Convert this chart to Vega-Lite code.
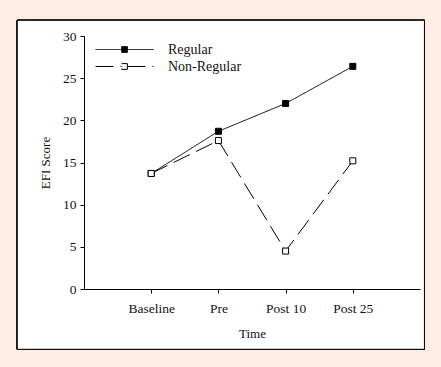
{
  "$schema": "https://vega.github.io/schema/vega-lite/v6.json",
  "width": 336,
  "height": 253,
  "autosize": {"type": "none"},
  "padding": {"left": 84, "top": 36, "right": 21, "bottom": 78},
  "background": "#fcece2",
  "config": {
    "view": {"stroke": null},
    "font": "Liberation Serif",
    "axis": {
      "labelFont": "Liberation Serif",
      "titleFont": "Liberation Serif",
      "labelFontSize": 13.5,
      "titleFontSize": 13,
      "titleFontWeight": "normal",
      "labelColor": "#111",
      "titleColor": "#111",
      "domainColor": "#000",
      "tickColor": "#000",
      "tickSize": 4,
      "grid": false
    },
    "legend": {
      "labelFont": "Liberation Serif",
      "labelFontSize": 14,
      "labelColor": "#111"
    }
  },
  "data": {
    "values": [
      {"time": "Baseline", "group": "Regular", "score": 13.7},
      {"time": "Pre", "group": "Regular", "score": 18.7},
      {"time": "Post 10", "group": "Regular", "score": 22.0},
      {"time": "Post 25", "group": "Regular", "score": 26.4},
      {"time": "Baseline", "group": "Non-Regular", "score": 13.7},
      {"time": "Pre", "group": "Non-Regular", "score": 17.6},
      {"time": "Post 10", "group": "Non-Regular", "score": 4.5},
      {"time": "Post 25", "group": "Non-Regular", "score": 15.2}
    ]
  },
  "layer": [
    {
      "mark": {"type": "rect", "fill": "white", "stroke": "black", "strokeWidth": 1, "clip": false},
      "encoding": {
        "x": {"datum": -0.993, "type": "quantitative", "scale": {"domain": [0, 5], "nice": false, "zero": false}, "axis": {"orient": "top", "domain": false, "ticks": false, "labels": false, "title": null}},
        "x2": {"datum": 5.066},
        "y": {"datum": 31.86, "type": "quantitative", "scale": {"domain": [0, 30], "nice": false}, "axis": {"orient": "right", "domain": false, "ticks": false, "labels": false, "title": null}},
        "y2": {"datum": -7.15}
      }
    },
    {
      "encoding": {
        "x": {"field": "time", "type": "ordinal", "sort": ["Baseline", "Pre", "Post 10", "Post 25"], "scale": {"type": "point", "padding": 1}, "axis": {"title": "Time", "orient": "bottom", "zindex": 2, "labelAngle": 0, "labelPadding": 8, "titlePadding": 13}},
        "y": {"field": "score", "type": "quantitative", "scale": {"domain": [0, 30], "nice": false}, "axis": {"title": "EFI Score", "orient": "left", "zindex": 2, "values": [0, 5, 10, 15, 20, 25, 30], "labelPadding": 4, "titlePadding": 10}}
      },
      "layer": [
        {
          "mark": {"type": "line", "color": "#000", "strokeWidth": 1},
          "encoding": {
            "strokeDash": {
              "field": "group", "type": "nominal",
              "scale": {"domain": ["Regular", "Non-Regular"], "range": [[1, 0], [18, 7]]},
              "legend": {
                "title": null,
                "orient": "none",
                "legendX": 31,
                "legendY": 4,
                "padding": 0,
                "symbolType": "M-3.22,0H-0.32M0.32,0H3.22M-0.32,-0.32H0.32V0.32H-0.32Z",
                "symbolSize": 324,
                "symbolStrokeColor": "black",
                "symbolStrokeWidth": 1,
                "labelOffset": 34,
                "rowPadding": 0
              }
            },
            "detail": {"field": "group"}
          }
        },
        {
          "mark": {"type": "point", "shape": "square", "size": 36, "filled": true, "stroke": "#000", "strokeWidth": 1, "opacity": 1},
          "encoding": {
            "fill": {
              "field": "group", "type": "nominal",
              "scale": {"domain": ["Regular", "Non-Regular"], "range": ["#000", "#fff"]},
              "legend": {
                "title": null,
                "orient": "none",
                "legendX": 31,
                "legendY": 4,
                "padding": 0,
                "symbolType": "M-3.22,0H-0.32M0.32,0H3.22M-0.32,-0.32H0.32V0.32H-0.32Z",
                "symbolSize": 324,
                "symbolStrokeColor": "black",
                "symbolStrokeWidth": 1,
                "labelOffset": 34,
                "rowPadding": 0
              }
            }
          }
        }
      ]
    }
  ],
  "resolve": {"scale": {"x": "independent", "y": "independent"}, "axis": {"x": "independent", "y": "independent"}}
}
